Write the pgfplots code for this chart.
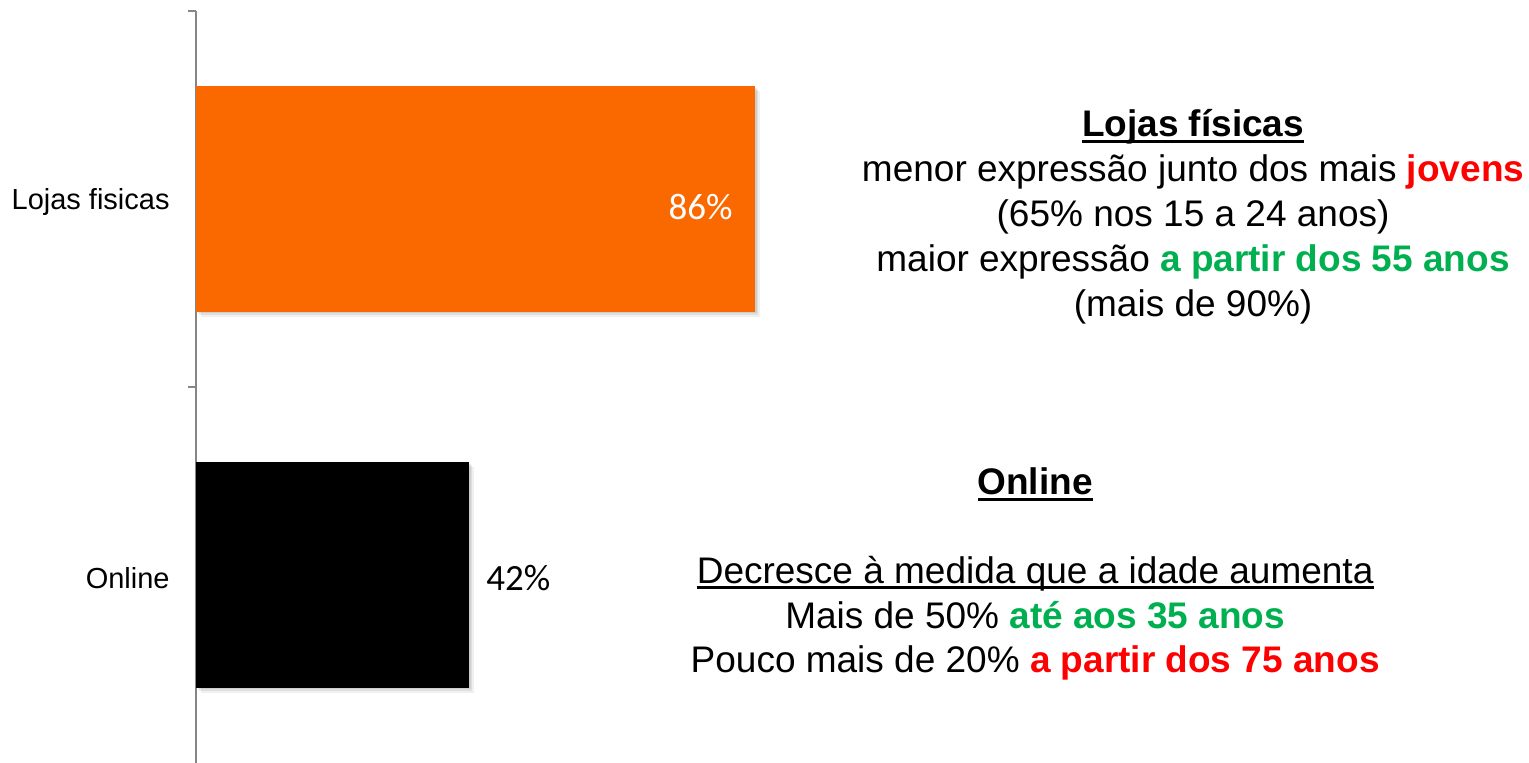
\documentclass[border=0pt]{standalone}
\usepackage{pgfplots}
\pgfplotsset{compat=1.18}
\usepackage{fontspec}
\setmainfont{Liberation Sans}
\newfontfamily\carlito{Carlito}
\definecolor{barorange}{RGB}{250,104,0}
\definecolor{axgray}{RGB}{134,134,134}
\definecolor{hired}{RGB}{255,0,0}
\definecolor{higreen}{RGB}{0,176,80}
\newcommand\ul[1]{\leavevmode\setbox0=\hbox{#1}\rlap{\rule[-3pt]{\wd0}{1.3pt}}\box0}
\newcommand\annfont{\fontsize{18.5pt}{22pt}\selectfont}
\tikzset{softshadow/.style={
  preaction={fill=black, opacity=0.06, transform canvas={xshift=2.4pt,yshift=-2.4pt}},
  preaction={fill=black, opacity=0.07, transform canvas={xshift=1.6pt,yshift=-1.6pt}},
  preaction={fill=black, opacity=0.08, transform canvas={xshift=0.8pt,yshift=-0.8pt}}}}
\begin{document}
\begin{tikzpicture}
\begin{axis}[
  scale only axis, width=666.5pt, height=376pt,
  xmin=0, xmax=205.08, ymin=-0.5, ymax=1.5,
  axis x line=none, axis y line*=left,
  y axis line style={axgray, line width=1pt},
  ytick={0,1}, yticklabels={Online,Lojas fisicas},
  major tick length=0pt, tick align=outside,
  yticklabel style={font=\fontsize{14.5pt}{17pt}\selectfont, inner sep=0pt, xshift=-13pt, yshift=-1.5pt},
  extra y ticks={0.5,1.5}, extra y tick labels={},
  extra y tick style={major tick length=4pt, tick style={axgray, line width=1pt}},
  xbar, bar width=0.6, clip=false,
  point meta=x,
  nodes near coords={\carlito\pgfmathprintnumber[assume math mode=true]{\pgfplotspointmeta}\%},
  nodes near coords style={font=\fontsize{18.5pt}{22pt}\selectfont, inner sep=0pt},
]
\addplot[fill=barorange, draw=none, bar shift=0pt, softshadow,
  every node near coord/.append style={anchor=east, xshift=-11pt, yshift=-4pt, text=white}]
  coordinates {(86,1)};
\addplot[fill=black, draw=none, bar shift=0pt, softshadow,
  every node near coord/.append style={anchor=west, xshift=8.5pt, yshift=-1.5pt, text=black}]
  coordinates {(42,0)};

\node[anchor=base, font=\annfont] at (axis cs:153.4,1.1649) {\ul{\textbf{Lojas físicas}}};
\node[anchor=base, font=\annfont] at (axis cs:153.4,1.0452) {menor expressão junto dos mais \textcolor{hired}{\textbf{jovens}}};
\node[anchor=base, font=\annfont] at (axis cs:153.4,0.9255) {(65\% nos 15 a 24 anos)};
\node[anchor=base, font=\annfont] at (axis cs:153.4,0.8059) {maior expressão \textcolor{higreen}{\textbf{a partir dos 55 anos}}};
\node[anchor=base, font=\annfont] at (axis cs:153.4,0.6862) {(mais de 90\%)};

\node[anchor=base, font=\annfont] at (axis cs:129.1,0.2128) {\ul{\textbf{Online}}};
\node[anchor=base, font=\annfont] at (axis cs:129.1,-0.0213) {\ul{Decresce à medida que a idade aumenta}};
\node[anchor=base, font=\annfont] at (axis cs:129.1,-0.1410) {Mais de 50\% \textcolor{higreen}{\textbf{até aos 35 anos}}};
\node[anchor=base, font=\annfont] at (axis cs:129.1,-0.2606) {Pouco mais de 20\% \textcolor{hired}{\textbf{a partir dos 75 anos}}};
\end{axis}
\pgfresetboundingbox
\path ([xshift=-98pt]current axis.south west) rectangle ([yshift=5.5pt]current axis.north east);
\end{tikzpicture}
\end{document}
